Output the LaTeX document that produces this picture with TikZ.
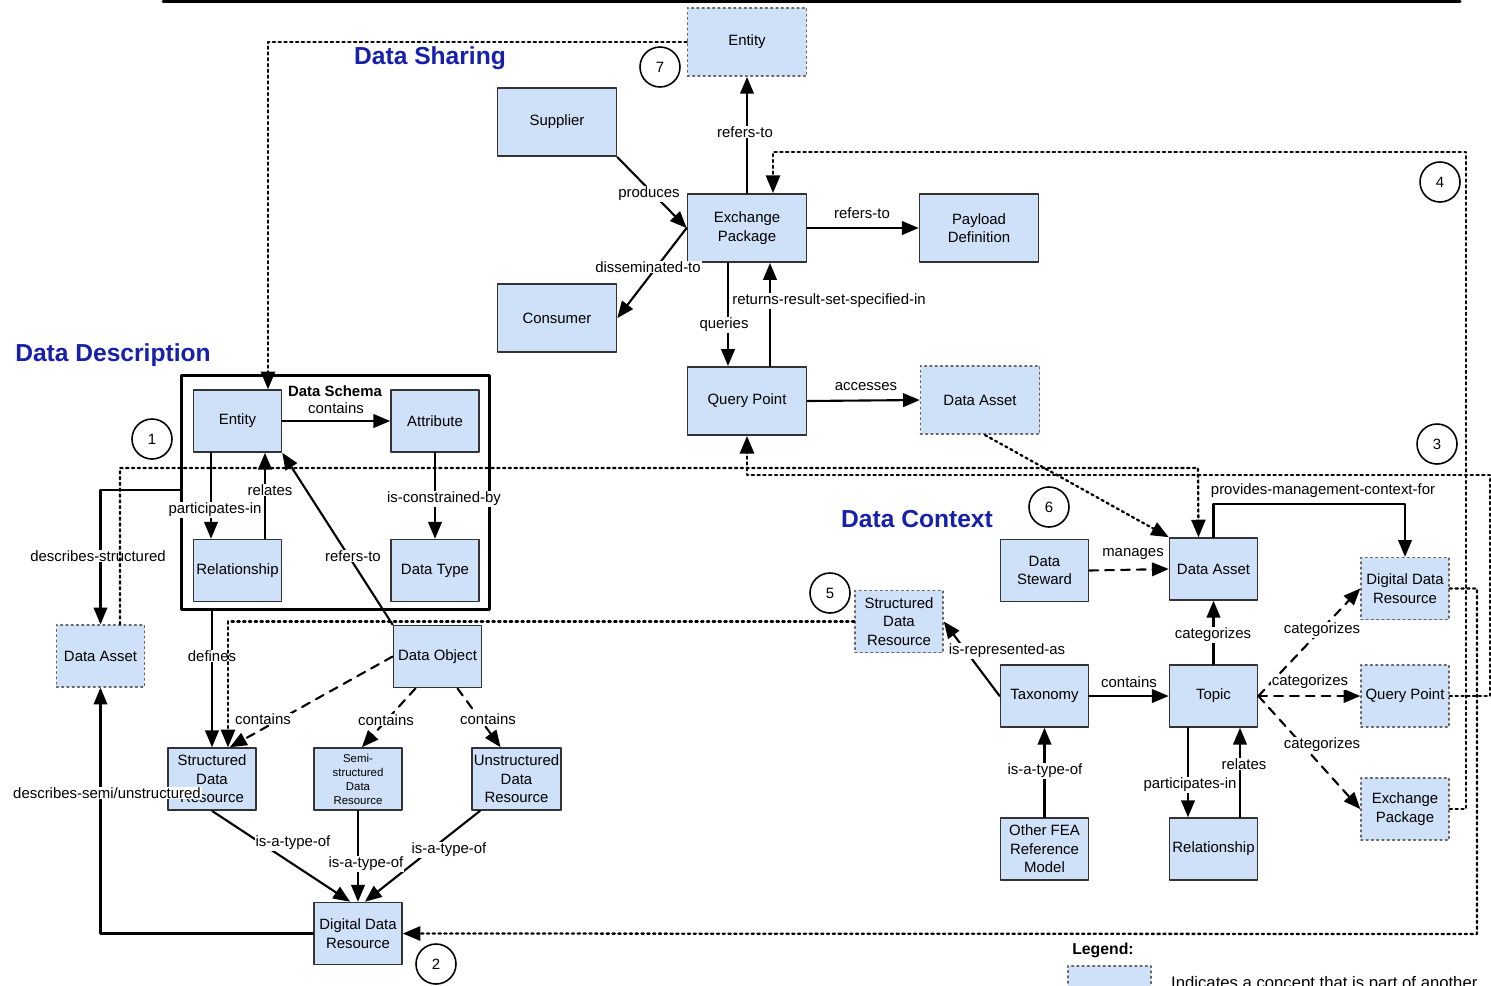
\documentclass[tikz,border=0pt]{standalone}
\usepackage{fontspec}
\setmainfont{Liberation Sans}
\usetikzlibrary{arrows,positioning}
\definecolor{boxblue}{RGB}{206,225,248}
\definecolor{titleblue}{RGB}{22,32,170}
\begin{document}
\begin{tikzpicture}[line cap=round,line join=round,>=triangle 45,x=0.02cm,y=-0.02cm,
	font=\fontsize{8.5}{10.5}\selectfont,
	concept/.style={draw=black!80,fill=boxblue,line width=1pt,minimum width=1.76cm,
		minimum height=1.24cm,inner sep=1pt,align=center},
	wide/.style={concept,minimum width=2.38cm,minimum height=1.37cm},
	part/.style={draw=black!60,dotted,line width=0.9pt},
	conn/.style={->,line width=1.2pt},
	dconn/.style={conn,dash pattern=on 5pt off 4pt},
	link/.style={->,dotted,line width=1.3pt},
	lbl/.style={fill=white,inner sep=0.5pt},
	num/.style={circle,draw,line width=0.9pt,minimum size=0.8cm,inner sep=0pt},
	areatitle/.style={text=titleblue,font=\fontsize{14}{16}\selectfont\bfseries}]
	\useasboundingbox (0,0) rectangle (1491,985);
	\draw[line width=1.7pt] (163,1.5) -- (1460,1.5); %riga
	% Data Sharing
	\node[areatitle] (tshare) at (430,58) {Data Sharing};
	\node[wide,part] (ent7) at (747,42) {Entity};
	\node[wide] (sup) at (557,122) {Supplier};
	\node[wide] (con) at (557,318) {Consumer};
	\node[wide] (ep) at (747,228) {Exchange\\Package};
	\node[wide] (pay) at (979,228) {Payload\\Definition};
	\node[wide] (qp) at (747,401) {Query Point};
	\node[wide,part] (dadq) at (980,400) {Data Asset};
	\draw[conn] (sup.south east) -- (ep.west);
	\draw[conn] (ep.west) -- (con.east);
	\draw[conn] (ep.north) -- (ent7.south);
	\draw[conn] (ep.east) -- (pay.west);
	\draw[conn] ([xshift=-0.38cm]ep.south) -- ([xshift=-0.38cm]qp.north);
	\draw[conn] ([xshift=0.46cm]qp.north) -- ([xshift=0.46cm]ep.south);
	\draw[conn] (qp.east) -- (dadq.west);
	\node[lbl] (lprod) at (649,194) {produces};
	\node[lbl] (ldiss) at (648,267) {disseminated-to};
	\node[lbl] (lref1) at (745,132) {refers-to};
	\node[lbl] (lref2) at (862,213) {refers-to};
	\node[lbl] (lquer) at (724,325) {queries};
	\node[lbl] (lret) at (829,301) {returns-result-set-specified-in};
	\node[lbl] (lacc) at (866,387) {accesses};
	% Data Description
	\node[areatitle] (tdesc) at (113,355) {Data Description};
	\node[draw,line width=1.7pt,minimum width=6.18cm,minimum height=4.7cm] (schema) at (335.5,492.5) {};
	\node[font=\fontsize{8.5}{10}\selectfont\bfseries] (tschema) at (335,391) {Data Schema};
	\node[concept] (ent) at (237.5,421) {Entity};
	\node[concept] (att) at (435,421) {Attribute};
	\node[concept] (rel) at (237.5,570.5) {Relationship};
	\node[concept] (dtype) at (435,570.5) {Data Type};
	\node[concept] (dobj) at (437.5,656.5) {Data Object};
	\node[concept,part] (dadd) at (100.5,656) {Data Asset};
	\node[concept] (sdr) at (212,779) {Structured\\Data\\Resource};
	\node[concept,font=\fontsize{6.5}{8}\selectfont] (semi) at (358,779) {Semi-\\structured\\Data\\Resource};
	\node[concept] (unstr) at (516.5,779) {Unstructured\\Data\\Resource};
	\node[concept] (ddr) at (358,933.5) {Digital Data\\Resource};
	\draw[conn] (ent.east) -- (att.west);
	\draw[conn] ([xshift=-0.53cm]ent.south) -- ([xshift=-0.53cm]rel.north);
	\draw[conn] ([xshift=0.55cm]rel.north) -- ([xshift=0.55cm]ent.south);
	\draw[conn] (att.south) -- (dtype.north);
	\draw[conn] (dobj.north west) -- (ent.south east);
	\draw[conn] ([yshift=0.05cm]schema.west) -| (dadd.north);
	\draw[conn] (schema.south -| sdr.north) -- (sdr.north);
	\draw[dconn] (dobj.west) -- ([xshift=0.36cm]sdr.north);
	\draw[dconn] ([xshift=-0.44cm]dobj.south) -- ([xshift=0.08cm]semi.north);
	\draw[dconn] ([xshift=0.4cm]dobj.south) -- ([xshift=-0.32cm]unstr.north);
	\draw[conn] (sdr.south) -- ([xshift=-0.16cm]ddr.north);
	\draw[conn] (semi.south) -- (ddr.north);
	\draw[conn] ([xshift=-0.73cm]unstr.south) -- ([xshift=0.14cm]ddr.north);
	\draw[conn] (ddr.west) -| (dadd.south);
	\node[lbl] (lcont1) at (336,408) {contains};
	\node[lbl] (lpart1) at (215,510) {participates-in};
	\node[lbl] (lrel1) at (270,490) {relates};
	\node[lbl] (lcons) at (444,499) {is-constrained-by};
	\node[lbl] (lref3) at (353,556) {refers-to};
	\node[lbl] (ldstr) at (98,556) {describes-structured};
	\node[lbl] (ldef) at (212,656) {defines};
	\node[lbl] (lcont2) at (263,719) {contains};
	\node[lbl] (lcont3) at (386,720) {contains};
	\node[lbl] (lcont4) at (488,719) {contains};
	\node[lbl] (ltype1) at (293,843) {is-a-type-of};
	\node[lbl] (ltype2) at (366,864) {is-a-type-of};
	\node[lbl] (ltype3) at (449,850) {is-a-type-of};
	\node[lbl] (ldsemi) at (107,793) {describes-semi/unstructured};
	% Data Context
	\node[areatitle] (tctx) at (917,519) {Data Context};
	\node[concept] (stew) at (1044.5,570.5) {Data\\Steward};
	\node[concept] (dac) at (1213.5,569) {Data Asset};
	\node[concept,part] (ddrc) at (1405,588.5) {Digital Data\\Resource};
	\node[concept,part] (sdrc) at (899,621.5) {Structured\\Data\\Resource};
	\node[concept] (tax) at (1044.5,696) {Taxonomy};
	\node[concept] (topic) at (1213.5,696) {Topic};
	\node[concept,part] (qpc) at (1405,696) {Query Point};
	\node[concept,part] (epc) at (1405,809) {Exchange\\Package};
	\node[concept] (fea) at (1044.5,849) {Other FEA\\Reference\\Model};
	\node[concept] (relc) at (1213.5,849) {Relationship};
	\draw[dconn] (stew.east) -- (dac.west);
	\draw[conn] (dac.north) -- ++(0,-33) -| (ddrc.north);
	\draw[conn] (topic.north) -- (dac.south);
	\draw[dconn] (topic.east) -- (ddrc.west);
	\draw[dconn] (topic.east) -- (qpc.west);
	\draw[dconn] (topic.east) -- (epc.west);
	\draw[conn] (tax.east) -- (topic.west);
	\draw[conn] (tax.west) -- (sdrc.east);
	\draw[conn] (fea.north) -- (tax.south);
	\draw[conn] ([xshift=-0.51cm]topic.south) -- ([xshift=-0.51cm]relc.north);
	\draw[conn] ([xshift=0.53cm]relc.north) -- ([xshift=0.53cm]topic.south);
	\node[lbl] (lman) at (1133,554) {manages};
	\node[lbl] (lprov) at (1323,491) {provides-management-context-for};
	\node[lbl] (lcat1) at (1213,635) {categorizes};
	\node[lbl] (lcat2) at (1322,630) {categorizes};
	\node[lbl] (lcat3) at (1310,682) {categorizes};
	\node[lbl] (lcat4) at (1322,745) {categorizes};
	\node[lbl] (lcont5) at (1129,682) {contains};
	\node[lbl] (lrep) at (1007,651) {is-represented-as};
	\node[lbl] (ltype4) at (1045,771) {is-a-type-of};
	\node[lbl] (lpart2) at (1190,785) {participates-in};
	\node[lbl] (lrel2) at (1244,764) {relates};
	% numeri
	\node[num] (c1) at (152,439) {1};
	\node[num] (c2) at (436,964) {2};
	\node[num] (c3) at (1437,444) {3};
	\node[num] (c4) at (1440,182) {4};
	\node[num] (c5) at (830,593) {5};
	\node[num] (c6) at (1049,507) {6};
	\node[num] (c7) at (660,67) {7};
	% collegamenti tra aree
	\draw[link] (ent7.west) -| ([xshift=0.61cm]ent.north); %7
	\draw[link] (epc.east) -| (1466,152) -| ([xshift=0.52cm]ep.north); %4
	\draw[link] (qpc.east) -| (1490,475) -| (qp.south); %3
	\draw[link] ([xshift=0.39cm]dadd.north) |- (1198,468) -- ([xshift=-0.3cm]dac.north); %1
	\draw[link] ([xshift=0.1cm]dadq.south) -- (dac.north west); %6
	\draw[link] (sdrc.west) -| ([xshift=0.32cm]sdr.north); %5
	\draw[link] (ddrc.east) -| (1477,934) -- (ddr.east); %2
	% legenda
	\node[font=\fontsize{9}{11}\selectfont\bfseries] (leg) at (1103,950) {Legend:};
	\node[concept,part,minimum width=1.66cm,minimum height=0.8cm,anchor=north west] (legbox) at (1067,965) {};
	\node[anchor=base west,font=\fontsize{9.5}{11}\selectfont] (legtxt) at (1165,988) {Indicates a concept that is part of another};
\end{tikzpicture}
\end{document}
